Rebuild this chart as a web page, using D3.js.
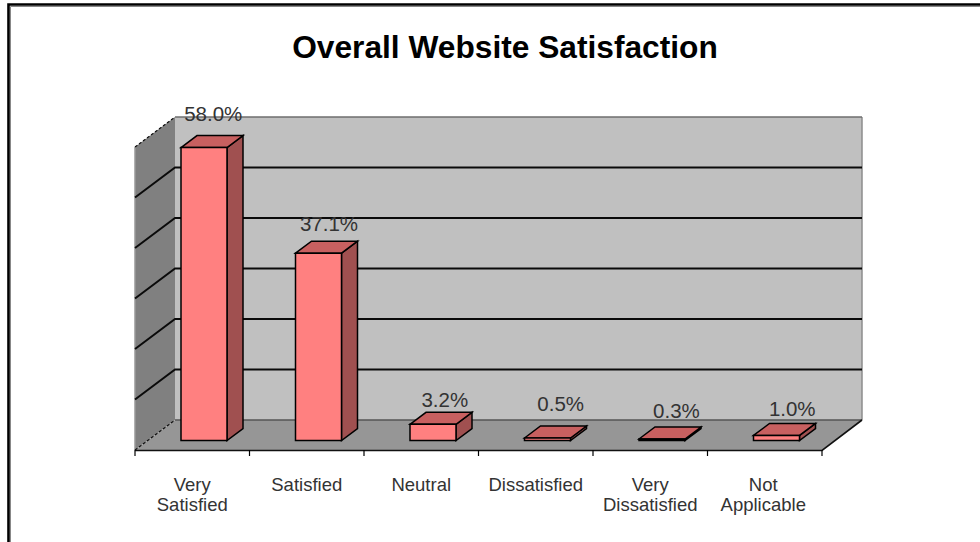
<!DOCTYPE html>
<html><head><meta charset="utf-8">
<script src="https://cdn.jsdelivr.net/npm/d3@7/dist/d3.min.js"></script>
<style>html,body{margin:0;padding:0;background:#fff}svg{display:block}
text{font-family:"Liberation Sans",Arial,sans-serif;fill:#333}</style></head><body>
<svg id="c" width="980" height="542"></svg>
<script>
const categories=[["Very","Satisfied"],["Satisfied"],["Neutral"],["Dissatisfied"],["Very","Dissatisfied"],["Not","Applicable"]];
const values=[58.0,37.1,3.2,0.5,0.3,1.0];
const valueLabels=["58.0%","37.1%","3.2%","0.5%","0.3%","1.0%"];
const gridTicks=[0,10,20,30,40,50,60];
const titleText="Overall Website Satisfaction";

const svg=d3.select("#c");
const x=d3.scaleBand().domain(d3.range(categories.length)).range([135,822]);
const y=d3.scaleLinear().domain([0,60]).range([440.5,137.5]);
const wallDx=40,wallDy=30,backShift=-20.5,frontShift=9.5;
const barDx=16,barDy=12,barW=46,barInset=46;
const pts=a=>a.map(p=>p.join(",")).join(" ");
const poly=(a,fill,stroke,sw)=>svg.append("polygon").attr("points",pts(a)).attr("fill",fill).attr("stroke",stroke||"none").attr("stroke-width",sw||0);

// outer frame
svg.append("path").attr("d","M8.5,542V4.5H980").attr("fill","none").attr("stroke","#000").attr("stroke-width",2.6);
svg.append("path").attr("d","M10.5,542V6.5H980").attr("fill","none").attr("stroke","#888").attr("stroke-width",1);

const x0=x.range()[0],x1=x.range()[1];
const yb=v=>y(v)+backShift, yf=v=>y(v)+frontShift;
// back wall, left wall, floor
poly([[x0+wallDx,yb(60)],[x1+wallDx,yb(60)],[x1+wallDx,yb(0)],[x0+wallDx,yb(0)]],"#c0c0c0");
poly([[x0,yf(60)],[x0+wallDx,yb(60)],[x0+wallDx,yb(0)],[x0,yf(0)]],"#808080");
poly([[x0,yf(0)],[x0+wallDx,yb(0)],[x1+wallDx,yb(0)],[x1,yf(0)]],"#969696");
// wall edges
svg.append("path").attr("d",`M${x1+wallDx},${yb(60)}V${yb(0)}`).attr("stroke","#8c8c8c").attr("stroke-width",1.5);
svg.append("path").attr("d",`M${x0+wallDx},${yb(60)}H${x1+wallDx}`).attr("stroke","#6e6e6e").attr("stroke-width",1.5);
svg.append("path").attr("d",`M${x0},${yf(0)}V${yf(60)}`).attr("stroke","#999").attr("stroke-width",1.5);
// grid
svg.selectAll(".g").data(gridTicks.slice(1,-1)).join("path").attr("fill","none").attr("stroke","#0a0a0a").attr("stroke-width",2)
 .attr("d",t=>`M${x0},${yf(t)}L${x0+wallDx},${yb(t)}H${x1+wallDx}`);
svg.append("path").attr("d",`M${x0+wallDx},${yb(0)}H${x1+wallDx}`).attr("stroke","#555").attr("stroke-width",1.5);
// dashed corners
[[0],[60]].forEach(([t])=>svg.append("path").attr("d",`M${x0},${yf(t)}L${x0+wallDx},${yb(t)}`).attr("stroke","#111").attr("stroke-width",1.2).attr("stroke-dasharray","3,2"));
// floor front edge and right edge
svg.append("path").attr("d",`M${x0},${yf(0)+0.5}H${x1}L${x1+wallDx},${yb(0)}`).attr("fill","none").attr("stroke","#111").attr("stroke-width",1.6);
// ticks
svg.selectAll(".t").data(d3.range(categories.length+1)).join("line")
 .attr("x1",i=>x0+i*x.step()).attr("x2",i=>x0+i*x.step()).attr("y1",yf(0)).attr("y2",yf(0)+6).attr("stroke","#000").attr("stroke-width",1.2);
// bars
values.forEach((v,i)=>{
  const l=x(i)+barInset,r=l+barW,t=y(v),b=y(0);
  poly([[r,t],[r+barDx,t-barDy],[r+barDx,b-barDy],[r,b]],"#a05050","#000",1.5);
  poly([[l,t],[l+barDx,t-barDy],[r+barDx,t-barDy],[r,t]],"#c86060","#000",1.5);
  poly([[l,t],[r,t],[r,b],[l,b]],"#ff8080","#000",1.5);
});
// value labels
const labelLift=[15,10,5,15,9,7];
svg.selectAll(".v").data(values).join("text").attr("class","v").attr("text-anchor","middle").attr("font-size",20.5)
 .attr("x",(d,i)=>x(i)+x.bandwidth()/2+21+i*1.3)
 .attr("y",(d,i)=>y(d)-barDy-labelLift[i]).text((d,i)=>valueLabels[i]);
// category labels
categories.forEach((c,i)=>{
  c.forEach((s,k)=>svg.append("text").attr("text-anchor","middle").attr("font-size",18.5)
   .attr("x",x(i)+x.bandwidth()/2-(i===5?1.5:0)).attr("y",491+k*20).text(s));
});
svg.append("text").attr("x",505).attr("y",58).attr("text-anchor","middle").attr("font-size",31.7).attr("font-weight","bold").style("fill","#000").text(titleText);
</script></body></html>
